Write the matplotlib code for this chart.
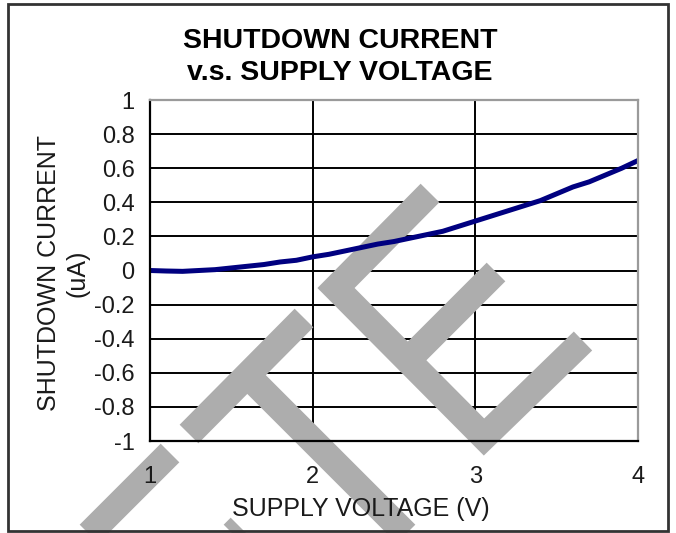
import matplotlib
matplotlib.use('Agg')
import matplotlib.pyplot as plt
from matplotlib.lines import Line2D
from matplotlib.patches import Rectangle

plt.rcParams['font.family'] = ['Liberation Sans', 'DejaVu Sans']

# data (V, uA)
voltage = [1.0, 1.1, 1.2, 1.3, 1.4, 1.5, 1.6, 1.7, 1.8, 1.9, 2.0,
           2.1, 2.2, 2.3, 2.4, 2.5, 2.6, 2.7, 2.8, 2.9, 3.0,
           3.1, 3.2, 3.3, 3.4, 3.5, 3.6, 3.7, 3.8, 3.9, 4.0]
current = [0.0, -0.003, -0.005, 0.0, 0.005, 0.015, 0.025, 0.035, 0.05, 0.06, 0.08,
           0.095, 0.115, 0.135, 0.155, 0.17, 0.19, 0.21, 0.23, 0.26, 0.29,
           0.32, 0.35, 0.38, 0.41, 0.45, 0.49, 0.52, 0.56, 0.60, 0.645]

x_ticks = [1, 2, 3, 4]
y_ticks = [-1, -0.8, -0.6, -0.4, -0.2, 0, 0.2, 0.4, 0.6, 0.8, 1]
y_tick_labels = ['-1', '-0.8', '-0.6', '-0.4', '-0.2', '0', '0.2', '0.4', '0.6', '0.8', '1']

W, H = 676, 533
fig = plt.figure(figsize=(W / 100, H / 100), dpi=100)
ax = fig.add_axes([150 / W, 1 - 441 / H, 488 / W, 341 / H])

ax.set_xlim(1, 4)
ax.set_ylim(-1, 1)
ax.set_xticks(x_ticks)
ax.set_yticks(y_ticks)
ax.set_yticklabels(y_tick_labels)
ax.tick_params(length=0, labelsize=17, colors='#1a1a1a')
ax.tick_params(axis='x', pad=18)
ax.tick_params(axis='y', pad=11)

# grid drawn by hand so it sits under the watermark
for y in y_ticks:
    ax.axhline(y, color='black', lw=1.4, zorder=0.5)
for x in x_ticks[1:-1]:
    ax.axvline(x, color='black', lw=1.4, zorder=0.5)

ax.plot(voltage, current, color='#000080', lw=3.6, zorder=2)

for side in ['left', 'bottom']:
    ax.spines[side].set_color('black')
    ax.spines[side].set_linewidth(1.6)
for side in ['top', 'right']:
    ax.spines[side].set_color('#9a9a9a')
    ax.spines[side].set_linewidth(1.6)

ax.set_xlabel('SUPPLY VOLTAGE (V)', fontsize=18, color='#1a1a1a')
ax.xaxis.set_label_coords(0.432, -0.164)
ax.set_ylabel('SHUTDOWN CURRENT\n(uA)', fontsize=18, color='#1a1a1a', linespacing=1.25)
ax.yaxis.set_label_coords(-0.123, 0.493)

fig.text(340 / W, 1 - 57 / H, 'SHUTDOWN CURRENT\nv.s. SUPPLY VOLTAGE', ha='center', va='center',
         fontsize=20.5, fontweight='bold', linespacing=1.3)

# grey watermark strokes (pixel coords, y down)
strokes = [
    [(170, 453), (75, 548)],
    [(240, 527), (215, 552)],
    [(189, 434), (304, 318)],
    [(247, 375), (415, 543)],
    [(430, 193), (336, 288), (484, 437), (583, 341)],
    [(408, 360), (496, 272)],
]
for pts in strokes:
    xs = [p[0] / W for p in pts]
    ys = [1 - p[1] / H for p in pts]
    ax.add_line(Line2D(xs, ys, transform=fig.transFigure, color='#adadad', lw=19,
                       solid_joinstyle='miter', solid_capstyle='butt', clip_on=False, zorder=1.5))

# outer frame
fig.add_artist(Rectangle((8 / W, 1 - 531 / H), 660 / W, 527 / H, transform=fig.transFigure,
                         fill=False, edgecolor='#333333', lw=2))

fig.savefig('out.png', dpi=100)
